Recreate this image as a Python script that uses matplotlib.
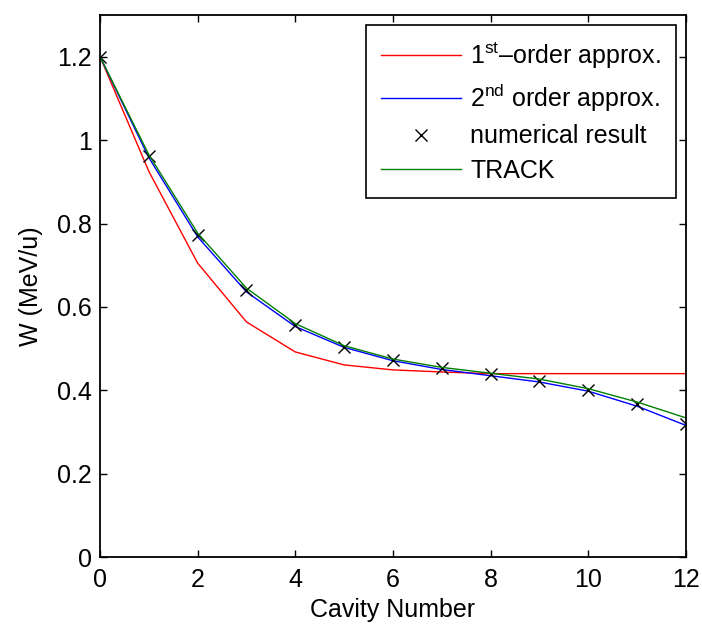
import numpy as np
import matplotlib
matplotlib.use('Agg')
import matplotlib.pyplot as plt

plt.rcParams['font.family'] = ['Liberation Sans', 'DejaVu Sans']
plt.rcParams['mathtext.fontset'] = 'custom'
plt.rcParams['mathtext.rm'] = 'Liberation Sans'
plt.rcParams['mathtext.it'] = 'Liberation Sans:italic'

# cavity index
cavity = np.arange(0, 13)

# energies (MeV/u)
w_first = [1.2, 0.925, 0.705, 0.564, 0.492, 0.461, 0.449, 0.444, 0.440, 0.440, 0.440, 0.440, 0.440]
w_second = [1.2, 0.958, 0.768, 0.636, 0.553, 0.503, 0.471, 0.450, 0.435, 0.420, 0.398, 0.362, 0.316]
w_numeric = [1.2, 0.961, 0.773, 0.641, 0.556, 0.505, 0.473, 0.453, 0.438, 0.423, 0.401, 0.367, 0.319]
w_track = [1.2, 0.965, 0.777, 0.645, 0.560, 0.507, 0.475, 0.455, 0.441, 0.427, 0.404, 0.372, 0.334]

fs = 18

fig = plt.figure(figsize=(7.02, 6.26), dpi=100)
ax = fig.add_axes([0.1425, 0.110, 0.8345, 0.866])

ax.plot(cavity, w_first, color='red', lw=1.0, label=r'1$^{\rm st}$–order approx.')
ax.plot(cavity, w_second, color='blue', lw=1.0, label=r'2$^{\rm nd}$ order approx.')
ax.plot(cavity, w_numeric, 'x', color='black', ms=9, mew=1.0, label='numerical result')
ax.plot(cavity, w_track, color='green', lw=1.0, label='TRACK')

ax.set_xlim(0, 12)
ax.set_ylim(0, 1.3)
ax.set_xticks(np.arange(0, 13, 2))
ax.set_yticks([0, 0.2, 0.4, 0.6, 0.8, 1.0, 1.2])
ax.set_yticklabels(['0', '0.2', '0.4', '0.6', '0.8', '1', '1.2'])
ax.tick_params(direction='in', top=True, right=True, length=5, width=1, labelsize=fs)
ax.tick_params(axis='x', pad=8)
ax.tick_params(axis='y', pad=6)
for s in ax.spines.values():
    s.set_linewidth(1.3)

ax.set_xlabel('Cavity Number', fontsize=fs, labelpad=4)
ax.set_ylabel('W (MeV/u)', fontsize=fs, labelpad=10)

leg = ax.legend(loc='upper right', fontsize=fs, fancybox=False, framealpha=1,
                edgecolor='black', borderaxespad=0.4, handlelength=3.2,
                labelspacing=0.43, borderpad=0.6, handletextpad=0.35)
leg.get_frame().set_linewidth(1.2)

fig.savefig('out.png', dpi=100)
